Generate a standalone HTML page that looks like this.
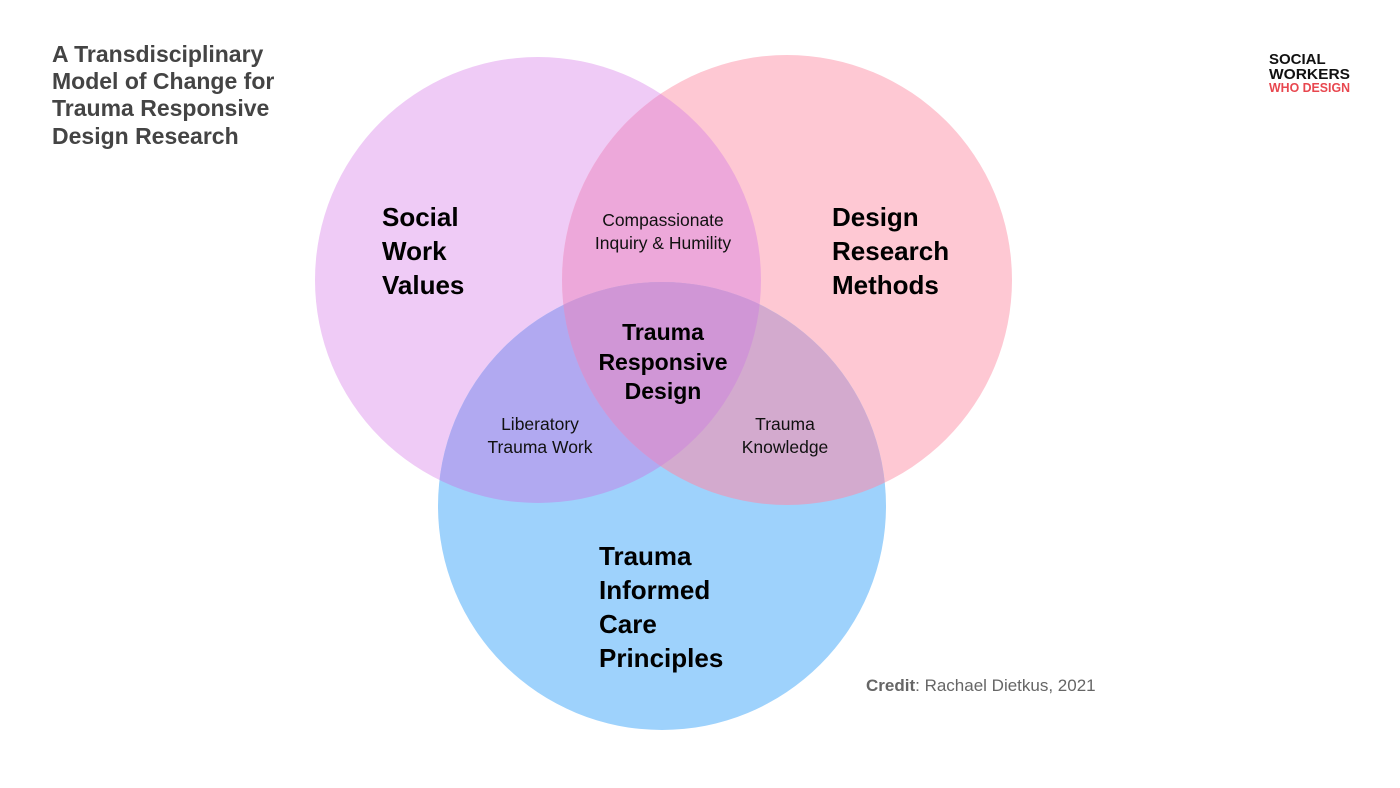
<!DOCTYPE html>
<html><head><meta charset="utf-8"><style>
html,body{margin:0;padding:0;background:#fff;}
svg{display:block;}
text{font-family:"Liberation Sans",sans-serif;}
</style></head><body>
<svg width="1400" height="788" viewBox="0 0 1400 788" xmlns="http://www.w3.org/2000/svg">
<defs>
<clipPath id="cL"><circle cx="538" cy="280" r="223"/></clipPath>
<clipPath id="cR"><circle cx="787" cy="280" r="225"/></clipPath>
<clipPath id="cB"><circle cx="662" cy="506" r="224"/></clipPath>
</defs>
<rect width="1400" height="788" fill="#fff"/>
<circle cx="538" cy="280" r="223" fill="#efcbf6"/>
<circle cx="787" cy="280" r="225" fill="#fec8d3"/>
<circle cx="662" cy="506" r="224" fill="#9ed2fc"/>
<g clip-path="url(#cL)"><circle cx="787" cy="280" r="225" fill="#eda8da"/></g>
<g clip-path="url(#cL)"><circle cx="662" cy="506" r="224" fill="#b1a9f1"/></g>
<g clip-path="url(#cR)"><circle cx="662" cy="506" r="224" fill="#d3aace"/></g>
<g clip-path="url(#cL)"><g clip-path="url(#cR)"><circle cx="662" cy="506" r="224" fill="#d096d6"/></g></g>

<g fill="#444" font-size="23" font-weight="bold">
<text x="52" y="62">A Transdisciplinary</text>
<text x="52" y="89">Model of Change for</text>
<text x="52" y="116">Trauma Responsive</text>
<text x="52" y="144">Design Research</text>
</g>
<g font-size="15" font-weight="bold">
<text x="1269" y="64" fill="#111">SOCIAL</text>
<text x="1269" y="79" fill="#111" textLength="81" lengthAdjust="spacingAndGlyphs">WORKERS</text>
<text x="1269" y="92" fill="#e8474f" font-size="13" textLength="81" lengthAdjust="spacingAndGlyphs">WHO DESIGN</text>
</g>

<g fill="#000" font-size="26" font-weight="bold">
<text x="382" y="226">Social</text>
<text x="382" y="260">Work</text>
<text x="382" y="294">Values</text>
<text x="832" y="226">Design</text>
<text x="832" y="260">Research</text>
<text x="832" y="294">Methods</text>
<text x="599" y="565">Trauma</text>
<text x="599" y="599">Informed</text>
<text x="599" y="633">Care</text>
<text x="599" y="667">Principles</text>
</g>
<g fill="#000" font-size="23" font-weight="bold" text-anchor="middle">
<text x="663" y="340">Trauma</text>
<text x="663" y="370">Responsive</text>
<text x="663" y="399">Design</text>
</g>
<g fill="#111" font-size="17.5" text-anchor="middle">
<text x="663" y="226">Compassionate</text>
<text x="663" y="249">Inquiry &amp; Humility</text>
<text x="540" y="430">Liberatory</text>
<text x="540" y="453">Trauma Work</text>
<text x="785" y="430">Trauma</text>
<text x="785" y="453">Knowledge</text>
</g>
<text x="866" y="691" font-size="17" fill="#666"><tspan font-weight="bold">Credit</tspan>: Rachael Dietkus, 2021</text>
</svg>
</body></html>
